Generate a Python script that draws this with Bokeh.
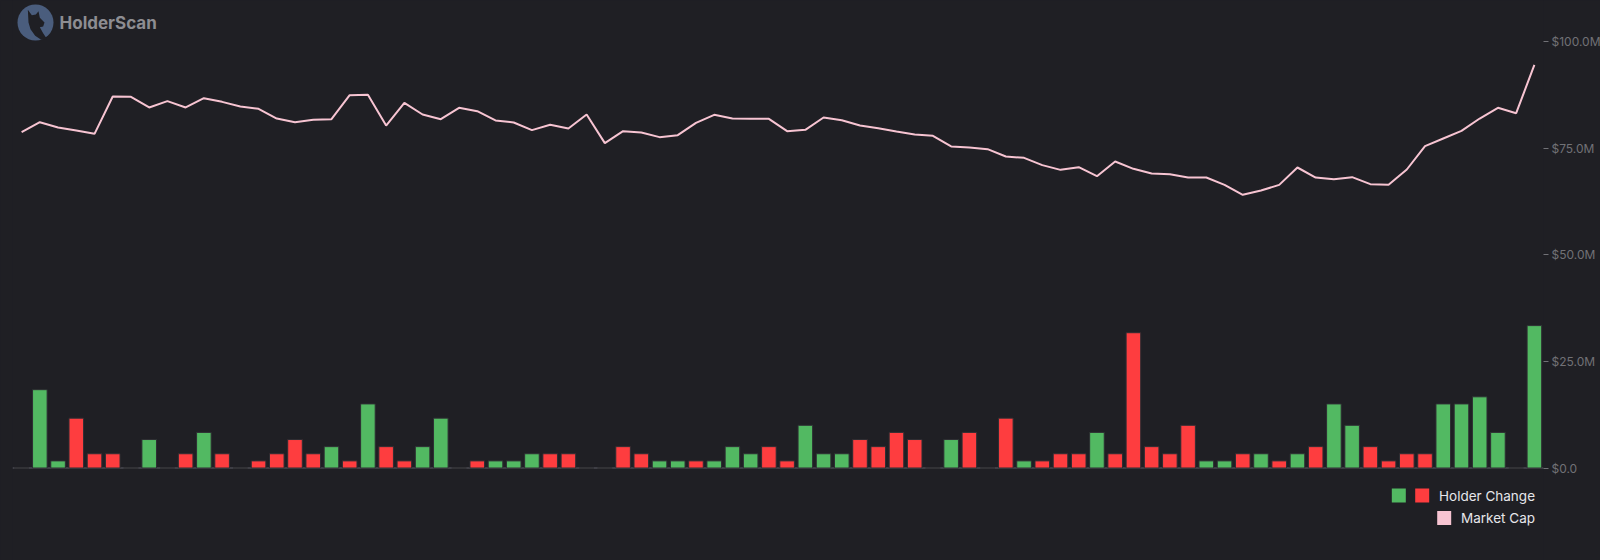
from bokeh.plotting import figure
from bokeh.models import Range1d, FixedTicker, Span, Label, ColumnDataSource
from bokeh.embed import file_html
from bokeh.resources import INLINE

# ---------------- data ----------------
periods = list(range(84))

holder_change = [0, 11, 1, -7, -2, -2, 0, 4, 0, -2, 5, -2, 0, -1, -2, -4, -2, 3, -1, 9,
                 -3, -1, 3, 7, 0, -1, 1, 1, 2, -2, -2, 0, 0, -3, -2, 1, 1, -1, 1, 3,
                 2, -3, -1, 6, 2, 2, -4, -3, -5, -4, 0, 4, -5, 0, -7, 1, -1, -2, -2, 5,
                 -2, -19, -3, -2, -6, 1, 1, -2, 2, -1, 2, -3, 9, 6, -3, -1, -2, -2, 9, 9,
                 10, 5, 0, 20]

market_cap_musd = [78.78, 81.12, 79.87, 79.17, 78.39, 87.15, 87.07, 84.57, 86.05, 84.57,
                   86.75, 85.89, 84.80, 84.25, 81.98, 81.12, 81.67, 81.83, 87.46, 87.54,
                   80.34, 85.66, 82.92, 81.83, 84.49, 83.70, 81.52, 81.05, 79.25, 80.50,
                   79.64, 82.92, 76.20, 79.01, 78.70, 77.61, 78.07, 80.97, 82.85, 81.98,
                   81.91, 81.91, 79.01, 79.33, 82.22, 81.59, 80.34, 79.72, 78.93, 78.23,
                   77.92, 75.42, 75.18, 74.79, 73.07, 72.76, 71.04, 69.94, 70.57, 68.46,
                   71.90, 70.18, 69.08, 68.93, 68.14, 68.14, 66.42, 64.08, 65.10, 66.42,
                   70.49, 68.14, 67.75, 68.22, 66.58, 66.42, 70.02, 75.49, 77.29, 79.09,
                   81.98, 84.49, 83.23, 94.57]

axis_ticks = [0, 25, 50, 75, 100]
axis_tick_labels = ["$0.0", "$25.0M", "$50.0M", "$75.0M", "$100.0M"]

legend_labels = ["Holder Change", "Market Cap"]
brand_name = "HolderScan"

# ---------------- style / layout ----------------
BG = "#1f1f24"
GREEN = "#52b962"
RED = "#fe3d3f"
PINK = "#f7c4d2"
GRID_GREY = "#4a4a50"
TEXT_GREY = "#717176"

FW = 1531          # frame width (px)
FH = 560           # frame height (px)
LEFT = 12          # left border
ZERO_PX = 467.5    # canvas y of the zero line
PX_PER_M = 4.263   # px per $1M
PX_PER_UNIT = 7.12 # px per holder-change unit
N = len(periods)
SLOT = FW / N

def xd(sx):
    """canvas x (px) -> data x"""
    return (sx - LEFT) / SLOT - 0.5

def yd(sy):
    """canvas y (px) -> data y ($M)"""
    return (ZERO_PX - sy) / PX_PER_M

p = figure(frame_width=FW, frame_height=FH,
           x_range=Range1d(-0.5, N - 0.5),
           y_range=Range1d(-(FH - ZERO_PX) / PX_PER_M, ZERO_PX / PX_PER_M),
           output_backend="svg", toolbar_location=None,
           x_axis_location=None, y_axis_location="right",
           min_border=0, min_border_left=LEFT, min_border_right=0,
           background_fill_color=BG, border_fill_color=BG,
           outline_line_color=None)
p.styles = {"background-color": BG}
p.grid.visible = False

p.extra_y_ranges = {"holders": Range1d(-(FH - ZERO_PX) / PX_PER_UNIT, ZERO_PX / PX_PER_UNIT)}

ax = p.yaxis[0]
ax.ticker = FixedTicker(ticks=axis_ticks)
ax.major_label_overrides = {t: l for t, l in zip(axis_ticks, axis_tick_labels)}
ax.axis_line_color = None
ax.major_tick_line_color = TEXT_GREY
ax.major_tick_out = 5
ax.major_tick_in = 0
ax.minor_tick_line_color = None
ax.major_label_standoff = 3
ax.major_label_text_font = "Inter"
ax.major_label_text_font_size = "12px"
ax.major_label_text_color = TEXT_GREY

# baseline
p.add_layout(Span(location=0, dimension="width", line_color=GRID_GREY, line_width=1.5, level="underlay"))

# bars
src = ColumnDataSource(dict(
    x=periods,
    top=[abs(v) for v in holder_change],
    color=[GREEN if v >= 0 else RED for v in holder_change],
))
p.vbar(x="x", top="top", bottom=0, width=0.8, fill_color="color",
       line_color="#2e2e33", line_width=1, y_range_name="holders", source=src)

# market cap line
p.line(periods, market_cap_musd, line_color=PINK, line_width=2)

# ---------------- legend (manual) ----------------
p.scatter([xd(1398.3), xd(1421.7)], [yd(495), yd(495)], marker="square", size=14,
          fill_color=[GREEN, RED], line_color=None)
p.scatter([xd(1443.7)], [yd(517.5)], marker="square", size=14, fill_color=PINK, line_color=None)
for lab, sy in zip(legend_labels, [495, 517.5]):
    p.add_layout(Label(x=xd(1534.5), y=yd(sy), text=lab, text_align="right",
                       text_baseline="middle", text_font="Inter", text_font_size="13.5px",
                       text_color="#e6e6ea"))

# ---------------- logo ----------------
p.scatter([xd(35)], [yd(22)], marker="circle", size=36, fill_color="#4a5d7d", line_color=None)
cat_pts = [(40, 22), (52, 38), (64, 36), (72, 26), (76, 46), (90, 60), (86, 72), (76, 74),
           (86, 92), (98, 110), (80, 112), (62, 100), (48, 80), (42, 60)]
p.patch([xd(14 + a / 3) for a, b in cat_pts], [yd(2 + b / 3) for a, b in cat_pts],
        fill_color=BG, line_color=None)
p.add_layout(Label(x=xd(59), y=yd(22), text=brand_name, text_align="left",
                   text_baseline="middle", text_font="Inter", text_font_size="17px",
                   text_font_style="bold", text_color="#8d8d92"))

open("out.html", "w").write(file_html(p, INLINE))
